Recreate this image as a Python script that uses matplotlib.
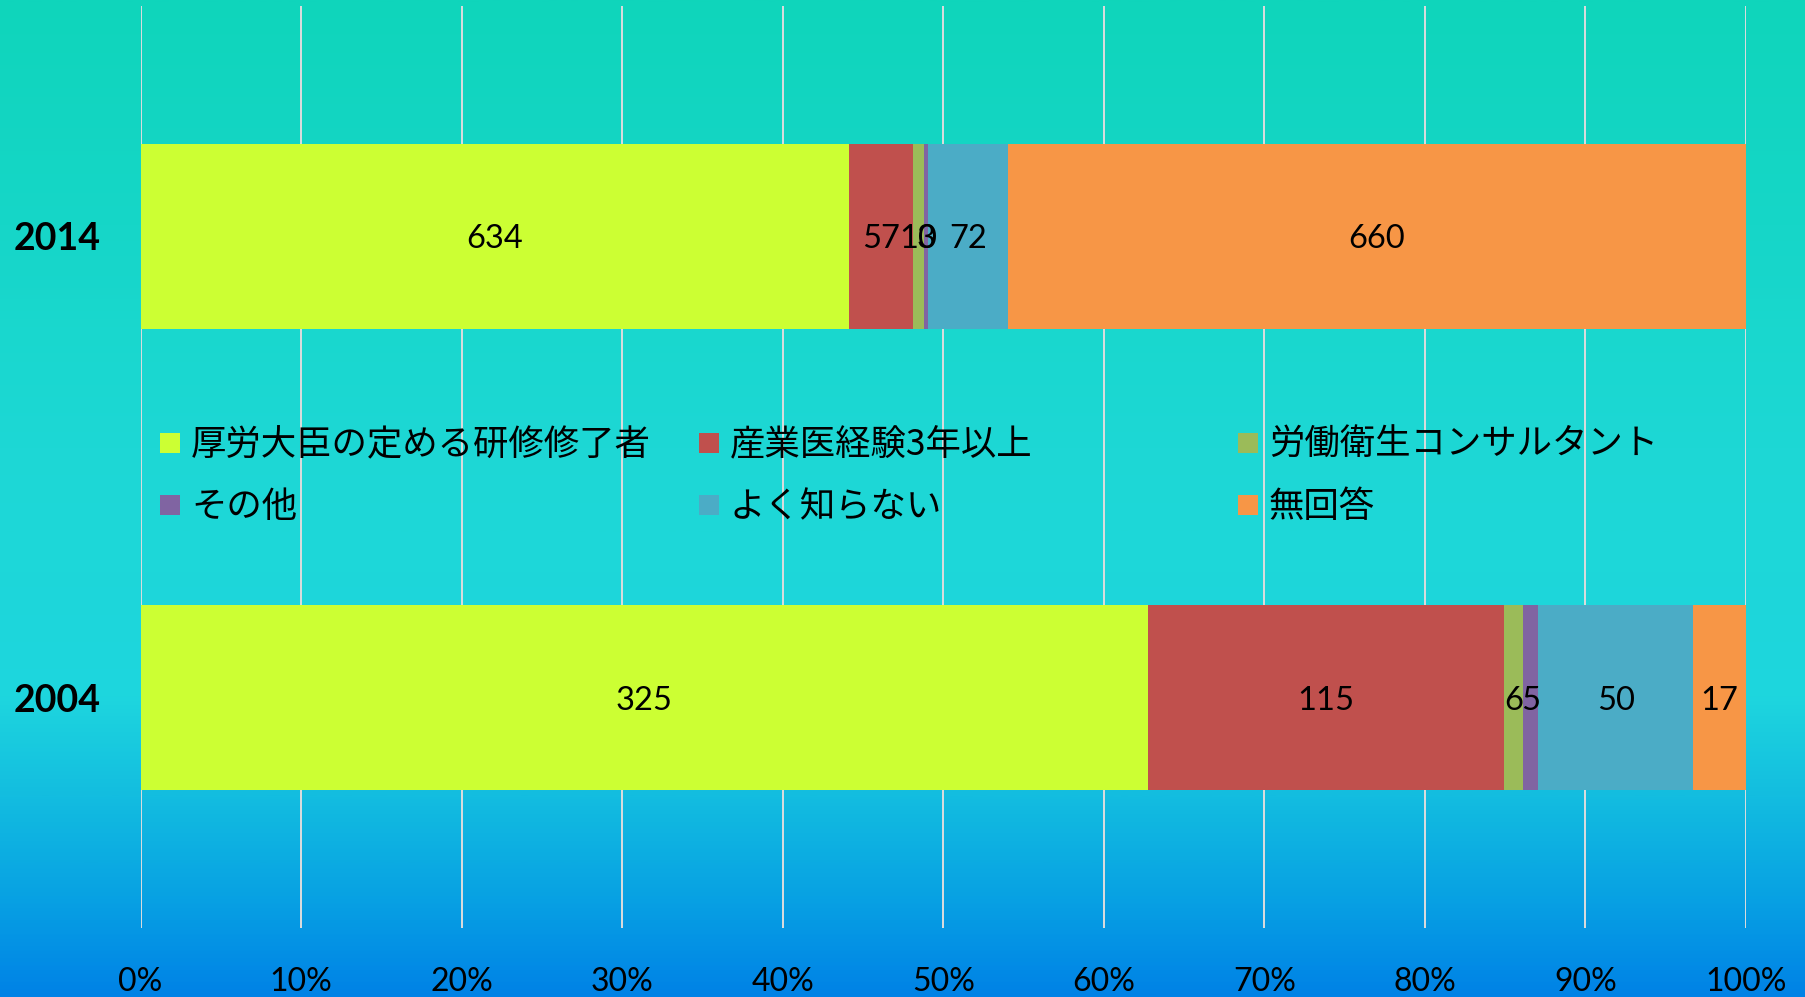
import numpy as np
import matplotlib
matplotlib.use("Agg")
import matplotlib.pyplot as plt
from matplotlib.colors import LinearSegmentedColormap
from matplotlib.patches import Rectangle

# ---- data ----
years = ["2004", "2014"]
series = ["厚労大臣の定める研修修了者", "産業医経験3年以上", "労働衛生コンサルタント",
          "その他", "よく知らない", "無回答"]
values_2004 = [325, 115, 6, 5, 50, 17]
values_2014 = [634, 57, 10, 3, 72, 660]
colors = ["#CCFF33", "#C0504D", "#9BBB59", "#8064A2", "#4BACC6", "#F79646"]
xticks = [0, 10, 20, 30, 40, 50, 60, 70, 80, 90, 100]
xtick_labels = [f"{t}%" for t in xticks]

W, H = 1805, 997
fig = plt.figure(figsize=(W / 100, H / 100), dpi=100)

# background gradient
bg = fig.add_axes([0, 0, 1, 1], zorder=0)
cmap = LinearSegmentedColormap.from_list(
    "bg", [(0.0, "#0FD5BB"), (0.45, "#1DD8D5"), (0.70, "#1ED6DE"),
           (0.80, "#13BDE0"), (0.90, "#08A2E3"), (1.0, "#0082E6")])
grad = np.linspace(0, 1, 512).reshape(-1, 1)
bg.imshow(grad, aspect="auto", cmap=cmap, extent=[0, 1, 0, 1], origin="upper")
bg.set_axis_off()

ax = fig.add_axes([140.5 / W, 1 - 928 / H, (1746 - 140.5) / W, (928 - 6) / H], zorder=1)
ax.patch.set_alpha(0)

rows = [values_2004, values_2014]
for yi, vals in enumerate(rows):
    total = sum(vals)
    left = 0.0
    for v, c in zip(vals, colors):
        pct = v / total * 100
        ax.barh(yi, pct, left=left, height=0.4, color=c, zorder=2)
        ax.text(left + pct / 2, yi, str(v), ha="center", va="center_baseline",
                fontsize=23.5, family="Lato", color="black", zorder=3)
        left += pct

ax.set_xlim(0, 100)
ax.set_ylim(-0.5, 1.5)
ax.set_xticks(xticks)
ax.set_xticklabels(xtick_labels, fontsize=23, family="Lato")
ax.set_yticks([0, 1])
ax.set_yticklabels(years, fontsize=27, family="Lato", fontweight="bold")
ax.tick_params(axis="x", length=0, pad=28)
ax.tick_params(axis="y", length=0, pad=29)
ax.grid(axis="x", color="#DDDDDD", linewidth=1.4, zorder=0)
ax.set_axisbelow(True)
for s in ax.spines.values():
    s.set_visible(False)

# legend (3 columns x 2 rows)
col_x = [160, 699, 1238]
row_y = [443, 505]
msz = 20
for i, (name, c) in enumerate(zip(series, colors)):
    r, k = divmod(i, 3)
    x0 = col_x[k]
    y0 = row_y[r]
    fig.patches.append(Rectangle((x0 / W, 1 - (y0 + msz / 2) / H), msz / W, msz / H,
                                 transform=fig.transFigure, facecolor=c,
                                 edgecolor="none", zorder=3))
    fig.text((x0 + 31) / W, 1 - (y0 + 2) / H, name, ha="left", va="center",
             fontsize=25.5, family=["Noto Sans CJK JP", "DejaVu Sans"], zorder=4)

fig.savefig("out.png", dpi=100)
